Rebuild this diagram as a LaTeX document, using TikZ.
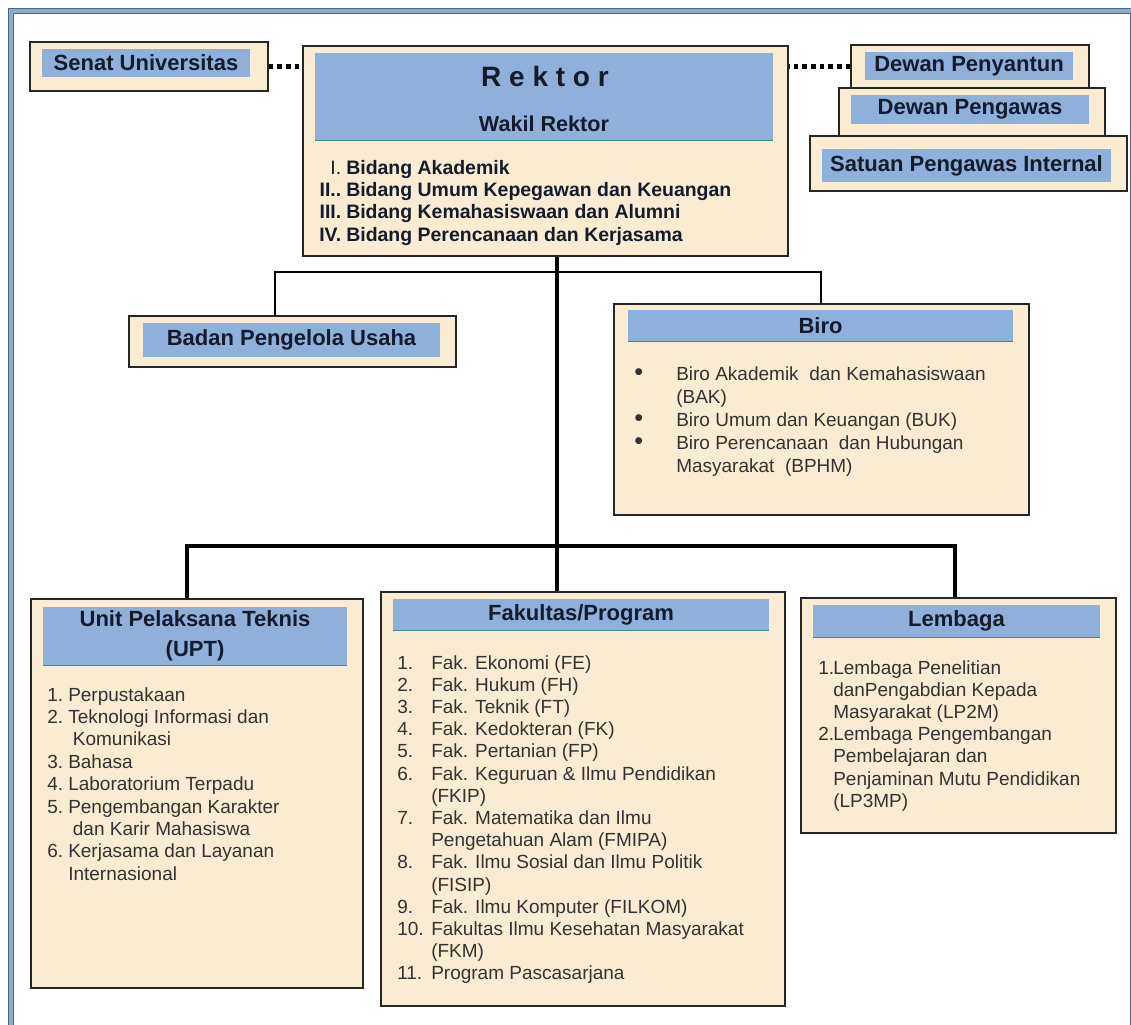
\documentclass[tikz,border=0pt]{standalone}
\usepackage{fontspec}
\setmainfont{Liberation Sans}
\usepackage{array}

\definecolor{kertas}{HTML}{F9ECD2}
\definecolor{biru}{HTML}{8FB0DB}
\definecolor{hijaubiru}{HTML}{3C8C8C}
\definecolor{bingkai}{HTML}{46668C}
\definecolor{bingkaimuda}{HTML}{8FAACB}
\definecolor{tinta}{HTML}{141C2C}
\definecolor{abu}{HTML}{333333}

\newcommand{\hurufjudul}{\fontsize{16.5pt}{19pt}\selectfont\bfseries}
\newcommand{\hurufisi}{\fontsize{14.25pt}{16.65pt}\selectfont}
\newcommand{\titikbesar}{{\fontsize{19pt}{19pt}\selectfont\textbullet}}

\begin{document}
\begin{tikzpicture}[x=0.75pt,y=-0.75pt,
	kotak/.style={draw=black!85,line width=1.1pt,fill=kertas,inner sep=0pt},
	pita/.style={fill=biru,inner sep=0pt,text=tinta,font=\hurufjudul},
	garis/.style={line width=2.3pt},
	titik/.style={line width=3.5pt,dash pattern=on 3.5pt off 3pt},
	daftar/.style={anchor=base west,inner sep=0pt,text=abu,font=\hurufisi}]
				\path[use as bounding box] (0,0) rectangle (1131,1024);
				\clip (0,0) rectangle (1131,1024);
				\draw[draw=bingkai,line width=1.1pt,double=bingkaimuda,double distance=2.6pt] (11,11) rectangle (1133,1040);

				% pimpinan
				\node[kotak,minimum width=178.5pt,minimum height=36.75pt] (senat) at (149,66.5) {};
				\node[pita,minimum width=156pt,minimum height=21pt] (senatpita) at (146,63) {Senat Universitas};

				\node[kotak,minimum width=363.75pt,minimum height=157.5pt] (rektor) at (545.5,151) {};
				\node[pita,minimum width=343.5pt,minimum height=65.25pt] (rektorpita) at (544,96.5) {};
				\node[text=tinta,font=\fontsize{21pt}{24pt}\selectfont\bfseries] (rektorjudul) at (545,76) {R e k t o r};
				\node[text=tinta,font=\fontsize{16.2pt}{19pt}\selectfont\bfseries] (wakil) at (544,124) {Wakil Rektor};
				\node[daftar,text=tinta,font=\fontsize{14.6pt}{16.8pt}\selectfont\bfseries] (bidang) at (319,174) {\begin{tabular}[t]{@{}r@{\hspace{3.75pt}}l@{}}
					{\mdseries I.} & Bidang Akademik\\
					II.. & Bidang Umum Kepegawan dan Keuangan\\
					III. & Bidang Kemahasiswaan dan Alumni\\
					IV. & Bidang Perencanaan dan Kerjasama
				\end{tabular}};

				\node[kotak,minimum width=178.5pt,minimum height=32.25pt] (penyantun) at (970,66.5) {};
				\node[pita,minimum width=156pt,minimum height=21pt] (penyantunpita) at (969,66) {Dewan Penyantun};
				\node[kotak,minimum width=199.5pt,minimum height=36pt] (pengawas) at (972,112) {};
				\node[pita,minimum width=178.5pt,minimum height=21.75pt] (pengawaspita) at (970,109.5) {Dewan Pengawas};
				\node[kotak,minimum width=237.75pt,minimum height=41.25pt] (spi) at (968.5,163.5) {};
				\node[pita,minimum width=216.75pt,minimum height=24.75pt] (spipita) at (966.5,165.5) {Satuan Pengawas Internal};

				% tingkat kedua
				\node[kotak,minimum width=245.25pt,minimum height=38.25pt] (badan) at (292.5,341.5) {};
				\node[pita,minimum width=222.75pt,minimum height=25.5pt] (badanpita) at (291.5,340) {Badan Pengelola Usaha};

				\node[kotak,minimum width=311.25pt,minimum height=158.25pt] (biro) at (821.5,409.5) {};
				\node[pita,minimum width=288.75pt,minimum height=23.25pt] (biropita) at (820.5,325.5) {Biro};
				\node[daftar,font=\fontsize{14.25pt}{17.25pt}\selectfont] (birodaftar) at (634,380) {\begin{tabular}[t]{@{}p{31.5pt}@{}l@{}}
					\titikbesar & Biro Akademik\ \ dan Kemahasiswaan\\
					 & (BAK)\\
					\titikbesar & Biro Umum dan Keuangan (BUK)\\
					\titikbesar & Biro Perencanaan\ \ dan Hubungan\\
					 & Masyarakat\ \ (BPHM)
				\end{tabular}};

				% tingkat ketiga
				\node[kotak,minimum width=249pt,minimum height=291.75pt] (upt) at (197,793.5) {};
				\node[pita,minimum width=228pt,minimum height=43.5pt,align=center,font=\fontsize{16.5pt}{22.5pt}\selectfont\bfseries] (uptpita) at (195,636) {Unit Pelaksana Teknis\\(UPT)};
				\node[daftar,font=\fontsize{14.25pt}{16.8pt}\selectfont] (uptdaftar) at (47,701) {\begin{tabular}[t]{@{}p{15.75pt}@{}l@{}}
					1. & Perpustakaan\\
					2. & Teknologi Informasi dan\\
					 & \hspace{3.5pt}Komunikasi\\
					3. & Bahasa\\
					4. & Laboratorium Terpadu\\
					5. & Pengembangan Karakter\\
					 & \hspace{3.5pt}dan Karir Mahasiswa\\
					6. & Kerjasama dan Layanan\\
					 & Internasional
				\end{tabular}};

				\node[kotak,minimum width=303pt,minimum height=310.5pt] (fakultas) at (583,799) {};
				\node[pita,minimum width=282pt,minimum height=23.25pt] (fakultaspita) at (581,614.5) {Fakultas/Program};
				\node[daftar] (fakultasdaftar) at (397,669) {\begin{tabular}[t]{@{}p{25.5pt}@{}l@{}}
					1. & Fak. Ekonomi (FE)\\
					2. & Fak. Hukum (FH)\\
					3. & Fak. Teknik (FT)\\
					4. & Fak. Kedokteran (FK)\\
					5. & Fak. Pertanian (FP)\\
					6. & Fak. Keguruan \& Ilmu Pendidikan\\
					 & (FKIP)\\
					7. & Fak. Matematika dan Ilmu\\
					 & Pengetahuan Alam (FMIPA)\\
					8. & Fak. Ilmu Sosial dan Ilmu Politik\\
					 & (FISIP)\\
					9. & Fak. Ilmu Komputer (FILKOM)\\
					10. & Fakultas Ilmu Kesehatan Masyarakat\\
					 & (FKM)\\
					11. & Program Pascasarjana
				\end{tabular}};

				\node[kotak,minimum width=236.25pt,minimum height=176.25pt] (lembaga) at (958.5,715.5) {};
				\node[pita,minimum width=215.25pt,minimum height=24pt] (lembagapita) at (956.5,621) {Lembaga};
				\node[daftar] (lembagadaftar) at (818,674) {\begin{tabular}[t]{@{}p{11.25pt}@{}l@{}}
					1. & Lembaga Penelitian\\
					 & danPengabdian Kepada\\
					 & Masyarakat (LP2M)\\
					2. & Lembaga Pengembangan\\
					 & Pembelajaran dan\\
					 & Penjaminan Mutu Pendidikan\\
					 & (LP3MP)
				\end{tabular}};

				\foreach \p in {rektorpita,biropita,uptpita,fakultaspita,lembagapita}
					\draw[hijaubiru,line width=1pt] (\p.south west) -- (\p.south east);

				% garis penghubung
				\coordinate (atas) at (557,272);
				\coordinate (bawah) at (557,546);
				\coordinate (kiriatas) at (275,272);
				\coordinate (kananatas) at (821,272);
				\coordinate (kiribawah) at (187,546);
				\coordinate (kananbawah) at (955,546);
				\draw[garis] (rektor.south -| atas) -- (bawah |- fakultas.north);
				\draw[garis,line width=1.8pt] (kiriatas |- badan.north) -- (kiriatas) -- (kananatas) -- (kananatas |- biro.north);
				\draw[garis] (kiribawah |- upt.north) -- (kiribawah) -- (kananbawah) -- (kananbawah |- lembaga.north);
				\draw[titik] (senat.east) -- (senat.east -| rektor.west);
				\draw[titik] (penyantun.west) -- (penyantun.west -| rektor.east);
\end{tikzpicture}
\end{document}
